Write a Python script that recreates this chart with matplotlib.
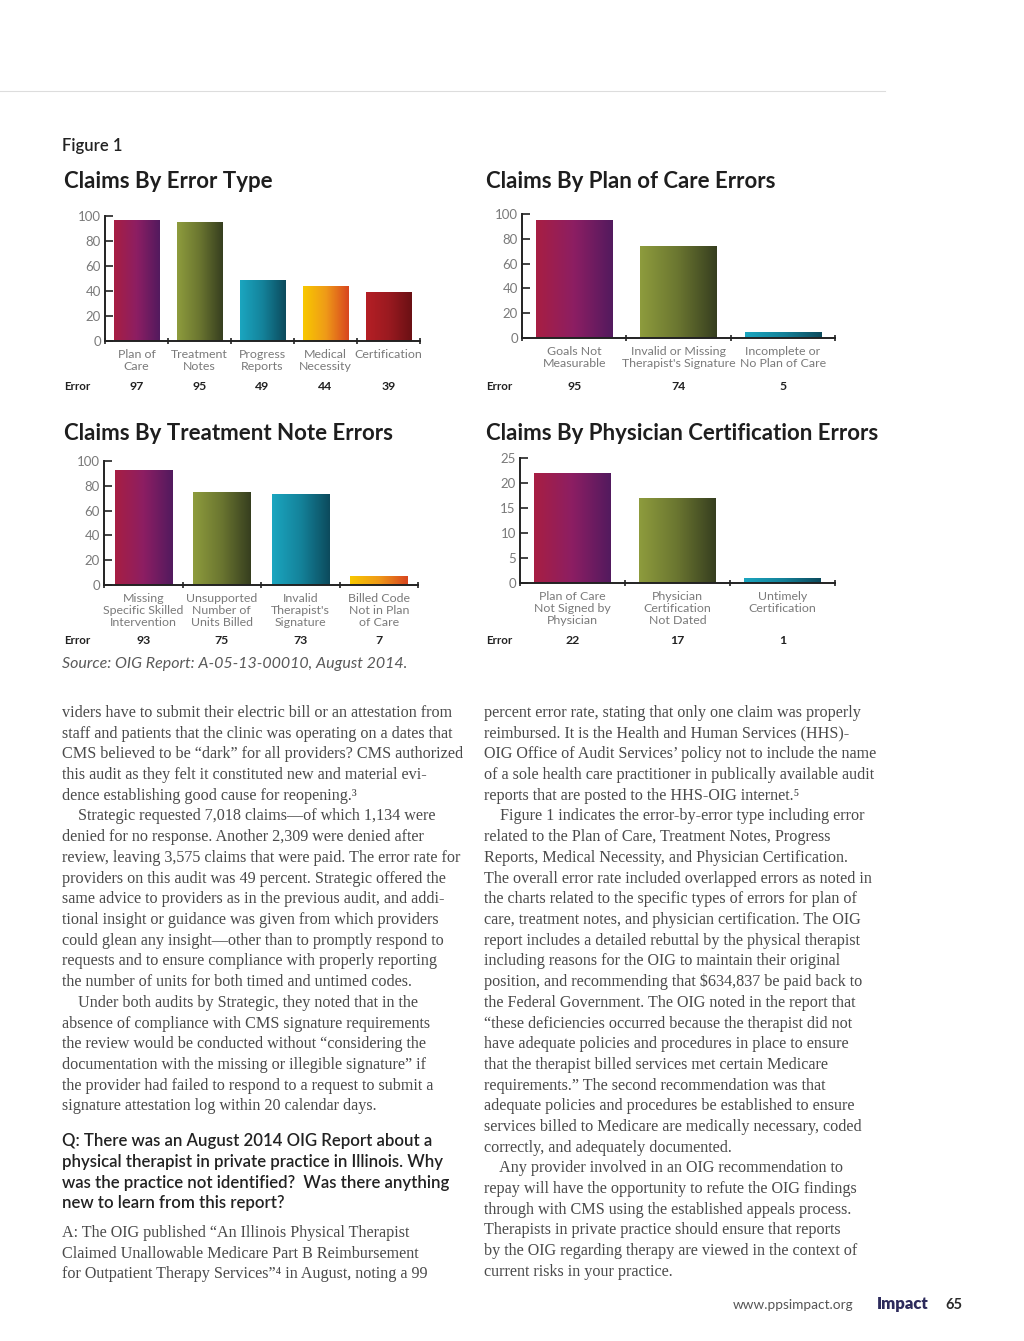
import numpy as np
import matplotlib
matplotlib.use("Agg")
import matplotlib.pyplot as plt
from matplotlib.colors import LinearSegmentedColormap
from matplotlib import transforms

W, H = 1024, 1341

# ---- chart data ----
type_labels = ["Plan of\nCare", "Treatment\nNotes", "Progress\nReports", "Medical\nNecessity", "Certification"]
type_values = [97, 95, 49, 44, 39]

poc_labels = ["Goals Not\nMeasurable", "Invalid or Missing\nTherapist's Signature", "Incomplete or\nNo Plan of Care"]
poc_values = [95, 74, 5]

note_labels = ["Missing\nSpecific Skilled\nIntervention", "Unsupported\nNumber of\nUnits Billed",
               "Invalid\nTherapist's\nSignature", "Billed Code\nNot in Plan\nof Care"]
note_values = [93, 75, 73, 7]

cert_labels = ["Plan of Care\nNot Signed by\nPhysician", "Physician\nCertification\nNot Dated", "Untimely\nCertification"]
cert_values = [22, 17, 1]

# gradient colours, left -> right
grads = {
    "plum": ["#a81f43", "#8c1e63", "#521a5e"],
    "olive": ["#8e9c3d", "#6a7530", "#363e1f"],
    "teal": ["#1ba6c0", "#14829a", "#0c4a5c"],
    "amber": ["#f8c800", "#ef9a18", "#d8451f"],
    "red": ["#b51f25", "#9a1a20", "#6a1014"],
}
order = ["plum", "olive", "teal", "amber", "red"]

plt.rcParams["font.family"] = ["Lato", "DejaVu Sans"]
fig = plt.figure(figsize=(W / 100, H / 100), dpi=100)


def fx(x):
    return x / W


def fy(y):
    return 1 - y / H


def ftext(x, y, s, **kw):
    kw.setdefault("va", "center")
    return fig.text(fx(x), fy(y), s, **kw)


def chart(box, labels, values, ymax, step, title, title_xy, err_x, err_y):
    left, top, right, bottom = box
    ax = fig.add_axes([fx(left), fy(bottom), fx(right - left), (bottom - top) / H])
    n = len(values)
    x = np.arange(n)
    bars = ax.bar(x, values, width=0.73, facecolor="none", edgecolor="none", zorder=2)
    g = np.linspace(0, 1, 256).reshape(1, -1)
    for rect, key in zip(bars, order):
        cmap = LinearSegmentedColormap.from_list(key, grads[key])
        x0 = rect.get_x()
        im = ax.imshow(g, extent=[x0, x0 + rect.get_width(), 0, rect.get_height()],
                       cmap=cmap, aspect="auto", zorder=2)
        im.set_clip_path(rect)
    ax.set_xlim(-0.5, n - 0.5)
    ax.set_ylim(0, ymax)
    ax.set_yticks(np.arange(0, ymax + 1, step))
    ax.set_xticks(x)
    ax.set_xticklabels(labels, color="#7a7a7a", fontsize=8.9, linespacing=1.1)
    ax.set_xticks(np.arange(n + 1) - 0.5, minor=True)
    ax.tick_params(axis="x", which="major", length=0, pad=6)
    ax.tick_params(axis="x", which="minor", length=4, width=1.2, direction="inout", color="#222")
    ax.tick_params(axis="y", length=6, width=1.2, direction="in", color="#222",
                   labelcolor="#7a7a7a", labelsize=9.5, pad=3)
    for s in ("top", "right"):
        ax.spines[s].set_visible(False)
    for s in ("left", "bottom"):
        ax.spines[s].set_linewidth(1.4)
        ax.spines[s].set_color("#222")
    ax.set_facecolor("none")

    ftext(title_xy[0], title_xy[1], title, fontsize=16, fontweight="bold", color="#1e1e1e")
    ftext(err_x, err_y, "Error", fontsize=8.3, fontweight="bold", color="#222")
    tr = transforms.blended_transform_factory(ax.transData, fig.transFigure)
    for xi, v in zip(x, values):
        ax.text(xi, fy(err_y), str(v), transform=tr, ha="center", va="center",
                fontsize=8.8, fontweight="bold", color="#222")
    return ax


# top rule
fig.add_artist(plt.Line2D([0, fx(885)], [fy(91), fy(91)], color="#dddddd", lw=0.8))

ftext(62, 146, "Figure 1", fontsize=12, fontweight="semibold", color="#222")

chart((105, 216, 420, 341), type_labels, type_values, 100, 20,
      "Claims By Error Type", (64, 181), 64, 387)
chart((522, 214, 835, 338), poc_labels, poc_values, 100, 20,
      "Claims By Plan of Care Errors", (486, 181), 486, 387)
chart((104, 461, 418, 585), note_labels, note_values, 100, 20,
      "Claims By Treatment Note Errors", (64, 434), 64, 641)
chart((520, 458, 835, 583), cert_labels, cert_values, 25, 5,
      "Claims By Physician Certification Errors", (486, 434), 486, 641)

ftext(62, 664, "Source: OIG Report: A-05-13-00010, August 2014.", fontsize=11.5,
      style="italic", color="#5a5a5a")

# ---- body text ----
left_col = [
    "viders have to submit their electric bill or an attestation from",
    "staff and patients that the clinic was operating on a dates that",
    "CMS believed to be \u201cdark\u201d for all providers? CMS authorized",
    "this audit as they felt it constituted new and material evi-",
    "dence establishing good cause for reopening.\u00b3",
    "    Strategic requested 7,018 claims\u2014of which 1,134 were",
    "denied for no response. Another 2,309 were denied after",
    "review, leaving 3,575 claims that were paid. The error rate for",
    "providers on this audit was 49 percent. Strategic offered the",
    "same advice to providers as in the previous audit, and addi-",
    "tional insight or guidance was given from which providers",
    "could glean any insight\u2014other than to promptly respond to",
    "requests and to ensure compliance with properly reporting",
    "the number of units for both timed and untimed codes.",
    "    Under both audits by Strategic, they noted that in the",
    "absence of compliance with CMS signature requirements",
    "the review would be conducted without \u201cconsidering the",
    "documentation with the missing or illegible signature\u201d if",
    "the provider had failed to respond to a request to submit a",
    "signature attestation log within 20 calendar days.",
]
question = [
    "Q: There was an August 2014 OIG Report about a",
    "physical therapist in private practice in Illinois. Why",
    "was the practice not identified?  Was there anything",
    "new to learn from this report?",
]
answer = [
    "A: The OIG published \u201cAn Illinois Physical Therapist",
    "Claimed Unallowable Medicare Part B Reimbursement",
    "for Outpatient Therapy Services\u201d\u2074 in August, noting a 99",
]
right_col = [
    "percent error rate, stating that only one claim was properly",
    "reimbursed. It is the Health and Human Services (HHS)-",
    "OIG Office of Audit Services\u2019 policy not to include the name",
    "of a sole health care practitioner in publically available audit",
    "reports that are posted to the HHS-OIG internet.\u2075",
    "    Figure 1 indicates the error-by-error type including error",
    "related to the Plan of Care, Treatment Notes, Progress",
    "Reports, Medical Necessity, and Physician Certification.",
    "The overall error rate included overlapped errors as noted in",
    "the charts related to the specific types of errors for plan of",
    "care, treatment notes, and physician certification. The OIG",
    "report includes a detailed rebuttal by the physical therapist",
    "including reasons for the OIG to maintain their original",
    "position, and recommending that $634,837 be paid back to",
    "the Federal Government. The OIG noted in the report that",
    "\u201cthese deficiencies occurred because the therapist did not",
    "have adequate policies and procedures in place to ensure",
    "that the therapist billed services met certain Medicare",
    "requirements.\u201d The second recommendation was that",
    "adequate policies and procedures be established to ensure",
    "services billed to Medicare are medically necessary, coded",
    "correctly, and adequately documented.",
    "    Any provider involved in an OIG recommendation to",
    "repay will have the opportunity to refute the OIG findings",
    "through with CMS using the established appeals process.",
    "Therapists in private practice should ensure that reports",
    "by the OIG regarding therapy are viewed in the context of",
    "current risks in your practice.",
]

serif = ["Liberation Serif", "DejaVu Serif"]
body = dict(fontsize=11.6, color="#4a4a4a", family=serif)
lh = 20.7

for i, line in enumerate(left_col):
    ftext(62, 713 + i * lh, line, **body)
for i, line in enumerate(question):
    ftext(62, 1141 + i * 20.8, line, fontsize=12.1, fontweight="semibold", color="#222")
for i, line in enumerate(answer):
    ftext(62, 1233 + i * lh, line, **body)
for i, line in enumerate(right_col):
    ftext(484, 713 + i * lh, line, **body)

# footer
ftext(733, 1305, "www.ppsimpact.org", fontsize=9.8, color="#555")
ftext(877, 1304, "Impact", fontsize=12, fontweight="heavy", color="#2d2b5c")
ftext(945, 1305, "65", fontsize=10.5, fontweight="bold", color="#2a2a2a")

fig.savefig("out.png", dpi=100, facecolor="white")
